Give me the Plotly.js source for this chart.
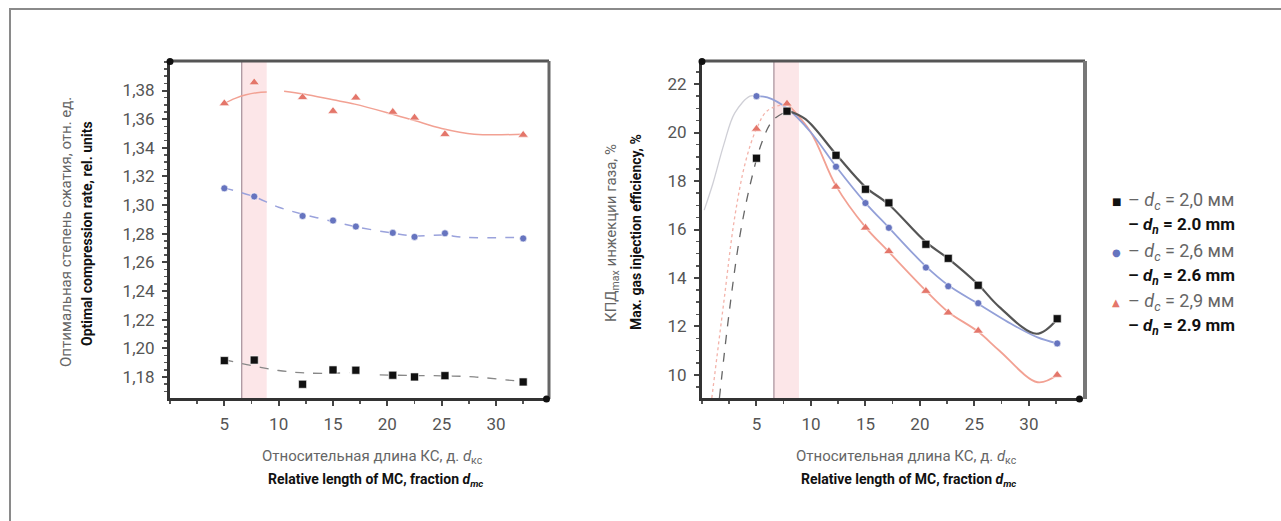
<!DOCTYPE html>
<html>
<head>
<meta charset="utf-8">
<script src="https://cdn.plot.ly/plotly-3.0.1.min.js"></script>
<style>html,body{margin:0;padding:0;background:#fff;}#chart{width:1281px;height:521px;}</style>
</head>
<body>
<div id="chart"></div>
<script>
// ---------- Data ----------
// Left chart: optimal compression rate
const xLeft = [5, 7.75, 12.2, 15, 17.1, 20.5, 22.5, 25.3, 32.5];
const leftBlack = [1.1914, 1.1918, 1.1749, 1.1849, 1.1847, 1.1812, 1.1800, 1.1809, 1.1765];
const leftBlue  = [1.3117, 1.3060, 1.2924, 1.2892, 1.2850, 1.2806, 1.2778, 1.2803, 1.2767];
const leftRed   = [1.3710, 1.3856, 1.3753, 1.3656, 1.3750, 1.3650, 1.3610, 1.3495, 1.3490];

// Left chart: fitted curves
const leftRedFitX1 = [5, 6, 7, 8, 8.9];
const leftRedFitY1 = [1.3710, 1.3745, 1.3770, 1.3785, 1.3790];
const leftRedFitX2 = [10.5, 12.3, 15, 17, 20, 22.5, 25, 28, 32.5];
const leftRedFitY2 = [1.3795, 1.3775, 1.3735, 1.3705, 1.3645, 1.3590, 1.3535, 1.3495, 1.3495];
const leftBlueFitX = [5, 7.7, 10, 12.3, 15, 17, 20, 22.5, 25.3, 27, 32.5];
const leftBlueFitY = [1.3120, 1.3060, 1.2985, 1.2935, 1.2885, 1.2850, 1.2810, 1.2785, 1.2790, 1.2775, 1.2775];
const leftBlackFitX1 = [5, 7.5, 10, 12, 14, 16.5];
const leftBlackFitY1 = [1.1920, 1.1880, 1.1845, 1.1830, 1.1825, 1.1830];
const leftBlackFitX2 = [19.3, 22, 25, 28, 32.5];
const leftBlackFitY2 = [1.1815, 1.1810, 1.1808, 1.1800, 1.1767];

// Right chart: max. gas injection efficiency, %
const xRight = [5, 7.8, 12.3, 15, 17.15, 20.55, 22.6, 25.35, 32.6];
const rightBlack = [18.94, 20.88, 19.06, 17.66, 17.10, 15.39, 14.81, 13.70, 12.32];
const xRightBlue = [5, 12.3, 15, 17.15, 20.55, 22.6, 25.35, 32.6];
const rightBlue  = [21.50, 18.59, 17.09, 16.07, 14.43, 13.66, 12.96, 11.30];
const rightRed   = [20.15, 21.19, 17.76, 16.07, 15.10, 13.46, 12.57, 11.82, 10.00];

// Right chart: fitted curves
const rBlackRiseX = [1.6, 2.5, 3.5, 4.5, 5.5, 6.5, 7.9];
const rBlackRiseY = [9.05, 12.6, 15.8, 18.0, 19.6, 20.5, 20.9];
const rBlackFallX = [7.9, 9.5, 12.3, 15, 17.1, 20.5, 22.6, 25.3, 27.3, 30.7, 32.6];
const rBlackFallY = [20.9, 20.55, 19.1, 17.75, 17.05, 15.5, 14.8, 13.75, 12.8, 11.7, 12.3];
const rBlueRiseX = [0.2, 1, 2, 3, 4.4, 5];
const rBlueRiseY = [16.8, 17.9, 19.5, 20.8, 21.5, 21.5];
const rBlueFallX = [5, 6, 7.8, 10, 12.3, 15, 17.1, 20.5, 22.6, 25.3, 28.8, 30.8, 32.6];
const rBlueFallY = [21.5, 21.45, 21.0, 20.0, 18.6, 17.1, 16.1, 14.5, 13.7, 12.95, 12.0, 11.55, 11.3];
const rRedRiseX = [0.9, 2, 3, 4, 5, 6, 7.8];
const rRedRiseY = [9.05, 13.0, 16.5, 18.8, 20.15, 20.9, 21.2];
const rRedFallX = [7.8, 10, 12.3, 15, 17.1, 20.5, 22.6, 25.3, 27.3, 30.8, 32.6];
const rRedFallY = [21.2, 20.0, 17.8, 16.1, 15.1, 13.5, 12.6, 11.8, 11.0, 9.7, 10.0];

// Tick labels
const xTickVals = [5, 10, 15, 20, 25, 30];
const xTickText = ['5', '10', '15', '20', '25', '30'];
const leftYTickVals = [1.18, 1.20, 1.22, 1.24, 1.26, 1.28, 1.30, 1.32, 1.34, 1.36, 1.38];
const leftYTickText = ['1,18', '1,20', '1,22', '1,24', '1,26', '1,28', '1,30', '1,32', '1,34', '1,36', '1,38'];
const rightYTickVals = [10, 12, 14, 16, 18, 20, 22];
const rightYTickText = ['10', '12', '14', '16', '18', '20', '22'];

// Highlighted band (relative length)
const bandStart = 6.6;
const bandEnd = 8.9;

// ---------- Styling ----------
const W = 1281, H = 521;
const FONT = "Roboto, 'Liberation Sans', sans-serif";
const GRAY = '#666';
const DARK = '#111';
const C_BLACK = '#111111', C_BLUE = '#6674bf', C_RED = '#e4766a';
const px = v => v / W;
const py = v => 1 - v / H;

const L = {x0: 170, x1: 546, top: 61, bottom: 398};
const R = {x0: 702, x1: 1079, top: 61, bottom: 398};

function pts(x, y, xa, ya, color, symbol, size) {
  return {type: 'scatter', mode: 'markers', x: x, y: y, xaxis: xa, yaxis: ya,
    marker: {color: color, symbol: symbol, size: size, line: {width: 1, color: 'rgba(255,255,255,0.6)'}},
    showlegend: false, hoverinfo: 'skip'};
}
function fit(x, y, xa, ya, color, width, dash) {
  return {type: 'scatter', mode: 'lines', x: x, y: y, xaxis: xa, yaxis: ya,
    line: {color: color, width: width, shape: 'spline', smoothing: 1.0, dash: dash},
    showlegend: false, hoverinfo: 'skip'};
}

const traces = [
  // left fits
  fit(leftRedFitX1, leftRedFitY1, 'x', 'y', '#f2a193', 1.5, 'solid'),
  fit(leftRedFitX2, leftRedFitY2, 'x', 'y', '#f2a193', 1.5, 'solid'),
  fit(leftBlueFitX, leftBlueFitY, 'x', 'y', '#9aa2dc', 1.5, 'dash'),
  fit(leftBlackFitX1, leftBlackFitY1, 'x', 'y', '#888', 1.3, 'dash'),
  fit(leftBlackFitX2, leftBlackFitY2, 'x', 'y', '#888', 1.3, 'dash'),
  // left points
  pts(xLeft, leftRed, 'x', 'y', C_RED, 'triangle-up', 9),
  pts(xLeft, leftBlue, 'x', 'y', C_BLUE, 'circle', 7),
  pts(xLeft, leftBlack, 'x', 'y', C_BLACK, 'square', 8),
  // right fits
  fit(rBlueRiseX, rBlueRiseY, 'x2', 'y2', '#cfcfd6', 1.3, 'solid'),
  fit(rRedRiseX, rRedRiseY, 'x2', 'y2', '#f3b3aa', 1.3, 'dot'),
  fit(rBlackRiseX, rBlackRiseY, 'x2', 'y2', '#666', 1.3, 'dash'),
  fit(rRedFallX, rRedFallY, 'x2', 'y2', '#f2a193', 1.8, 'solid'),
  fit(rBlueFallX, rBlueFallY, 'x2', 'y2', '#93a0d8', 1.8, 'solid'),
  fit(rBlackFallX, rBlackFallY, 'x2', 'y2', '#555', 2.2, 'solid'),
  // right points
  pts(xRight, rightRed, 'x2', 'y2', C_RED, 'triangle-up', 9),
  pts(xRightBlue, rightBlue, 'x2', 'y2', C_BLUE, 'circle', 7),
  pts(xRight, rightBlack, 'x2', 'y2', C_BLACK, 'square', 8)
];

const tickFont = {family: FONT, size: 17, color: '#555'};
function xAxis(dom) {
  return {domain: dom, range: [0, 34.6], tickvals: xTickVals, ticktext: xTickText,
    ticks: 'outside', ticklen: 5, tickwidth: 2, tickcolor: '#444',
    minor: {dtick: 2.5, tick0: 0, ticks: 'outside', ticklen: 3, tickwidth: 1.5, tickcolor: '#555'},
    showline: true, linecolor: '#333', linewidth: 3, showgrid: false, zeroline: false,
    tickfont: tickFont, ticklabelstandoff: 4, fixedrange: true, automargin: false};
}
function yAxis(dom, range, vals, text, minorStep, anchor) {
  return {domain: dom, range: range, tickvals: vals, ticktext: text, anchor: anchor,
    ticks: 'outside', ticklen: 5, tickwidth: 2, tickcolor: '#444',
    minor: {dtick: minorStep, ticks: 'outside', ticklen: 3, tickwidth: 1.5, tickcolor: '#555'},
    showline: true, linecolor: '#333', linewidth: 3, showgrid: false, zeroline: false,
    tickfont: tickFont, ticklabelstandoff: 4, fixedrange: true, automargin: false};
}

const yDom = [py(L.bottom), py(L.top)];

const shapes = [
  // outer frame
  {type: 'rect', xref: 'paper', yref: 'paper', x0: px(10), x1: px(1300), y0: py(540), y1: py(9),
   line: {color: '#8a8a8a', width: 2}, fillcolor: 'rgba(0,0,0,0)', layer: 'below'},
  // bands
  {type: 'rect', xref: 'x', yref: 'y domain', x0: bandStart, x1: bandEnd, y0: 0, y1: 1,
   fillcolor: 'rgba(248,200,205,0.45)', line: {width: 0}, layer: 'below'},
  {type: 'line', xref: 'x', yref: 'y domain', x0: bandStart, x1: bandStart, y0: 0, y1: 1,
   line: {color: '#a58e98', width: 1.2}, layer: 'below'},
  {type: 'rect', xref: 'x2', yref: 'y2 domain', x0: bandStart, x1: bandEnd, y0: 0, y1: 1,
   fillcolor: 'rgba(248,200,205,0.45)', line: {width: 0}, layer: 'below'},
  {type: 'line', xref: 'x2', yref: 'y2 domain', x0: bandStart, x1: bandStart, y0: 0, y1: 1,
   line: {color: '#a58e98', width: 1.2}, layer: 'below'},
  // plot frames (top & right)
  {type: 'line', xref: 'paper', yref: 'paper', x0: px(L.x0), x1: px(549), y0: py(L.top), y1: py(L.top), line: {color: '#555', width: 3}},
  {type: 'line', xref: 'paper', yref: 'paper', x0: px(549), x1: px(549), y0: py(L.top), y1: py(L.bottom + 1), line: {color: '#666', width: 3}},
  {type: 'line', xref: 'paper', yref: 'paper', x0: px(R.x0), x1: px(1085), y0: py(R.top), y1: py(R.top), line: {color: '#555', width: 3}},
  {type: 'line', xref: 'paper', yref: 'paper', x0: px(1085), x1: px(1085), y0: py(R.top), y1: py(R.bottom + 1), line: {color: '#777', width: 4}},
  // axis end dots
  {type: 'circle', xref: 'paper', yref: 'paper', x0: px(L.x0 - 3.5), x1: px(L.x0 + 3.5), y0: py(L.top + 4), y1: py(L.top - 3), fillcolor: '#111', line: {width: 0}},
  {type: 'circle', xref: 'paper', yref: 'paper', x0: px(L.x1 - 3), x1: px(L.x1 + 4), y0: py(L.bottom + 4.5), y1: py(L.bottom - 2.5), fillcolor: '#111', line: {width: 0}},
  {type: 'circle', xref: 'paper', yref: 'paper', x0: px(R.x0 - 3.5), x1: px(R.x0 + 3.5), y0: py(R.top + 4), y1: py(R.top - 3), fillcolor: '#111', line: {width: 0}},
  {type: 'circle', xref: 'paper', yref: 'paper', x0: px(R.x1 - 3), x1: px(R.x1 + 4), y0: py(R.bottom + 4.5), y1: py(R.bottom - 2.5), fillcolor: '#111', line: {width: 0}}
];

function ann(x, y, text, opts) {
  return Object.assign({xref: 'paper', yref: 'paper', x: px(x), y: py(y), text: text, showarrow: false,
    xanchor: 'center', yanchor: 'middle', font: {family: FONT, size: 15, color: GRAY}}, opts || {});
}
const grayX = {family: FONT, size: 15, color: GRAY};
const boldFontX = {family: FONT, size: 14, color: DARK};
const boldFontY = {family: FONT, size: 14, color: DARK};
const legFont = {family: FONT, size: 18, color: GRAY};
const legBold = {family: FONT, size: 17, color: DARK};

const annotations = [
  // left y title
  ann(66, 232, 'Оптимальная степень сжатия, отн. ед.', {textangle: -90}),
  ann(87, 234, '<b>Optimal compression rate, rel. units</b>', {textangle: -90, font: boldFontY}),
  // right y title
  ann(612, 233, 'КПД<sub>max</sub> инжекции газа, %', {textangle: -90}),
  ann(636, 232, '<b>Max. gas injection efficiency, %</b>', {textangle: -90, font: boldFontY}),
  // left x title
  ann(372, 457, 'Относительная длина КС, д. <i>d</i><sub>кс</sub>', {font: grayX}),
  ann(375, 480, '<b>Relative length of MC, fraction <i>d</i><sub><i>mc</i></sub></b>', {font: boldFontX}),
  // right x title
  ann(906, 457, 'Относительная длина КС, д. <i>d</i><sub>кс</sub>', {font: grayX}),
  ann(908, 480, '<b>Relative length of MC, fraction <i>d</i><sub><i>mc</i></sub></b>', {font: boldFontX}),
  // legend markers
  ann(1116, 201, '■', {font: {family: 'DejaVu Sans', size: 10, color: C_BLACK}}),
  ann(1116, 252, '●', {font: {family: 'DejaVu Sans', size: 10, color: C_BLUE}}),
  ann(1116, 302, '▲', {font: {family: 'DejaVu Sans', size: 10, color: C_RED}}),
  // legend text
  ann(1126, 201, '– <i>d</i><sub><i>c</i></sub> = 2,0 мм', {xanchor: 'left', font: legFont}),
  ann(1126, 225, '<b>– <i>d</i><sub><i>n</i></sub> = 2.0 mm</b>', {xanchor: 'left', font: legBold}),
  ann(1126, 252, '– <i>d</i><sub><i>c</i></sub> = 2,6 мм', {xanchor: 'left', font: legFont}),
  ann(1126, 276, '<b>– <i>d</i><sub><i>n</i></sub> = 2.6 mm</b>', {xanchor: 'left', font: legBold}),
  ann(1126, 302, '– <i>d</i><sub><i>c</i></sub> = 2,9 мм', {xanchor: 'left', font: legFont}),
  ann(1126, 326, '<b>– <i>d</i><sub><i>n</i></sub> = 2.9 mm</b>', {xanchor: 'left', font: legBold})
];

const layout = {
  width: W, height: H,
  margin: {l: 0, r: 0, t: 0, b: 0, pad: 0},
  paper_bgcolor: '#fff', plot_bgcolor: 'rgba(0,0,0,0)',
  showlegend: false,
  font: {family: FONT, color: '#555'},
  xaxis: Object.assign(xAxis([px(L.x0), px(L.x1)]), {anchor: 'y'}),
  yaxis: yAxis(yDom, [1.1653, 1.4006], leftYTickVals, leftYTickText, 0.005, 'x'),
  xaxis2: Object.assign(xAxis([px(R.x0), px(R.x1)]), {anchor: 'y2'}),
  yaxis2: yAxis(yDom, [9.05, 22.95], rightYTickVals, rightYTickText, 0.5, 'x2'),
  shapes: shapes,
  annotations: annotations
};

Plotly.newPlot('chart', traces, layout, {staticPlot: true, displayModeBar: false});
</script>
</body>
</html>
